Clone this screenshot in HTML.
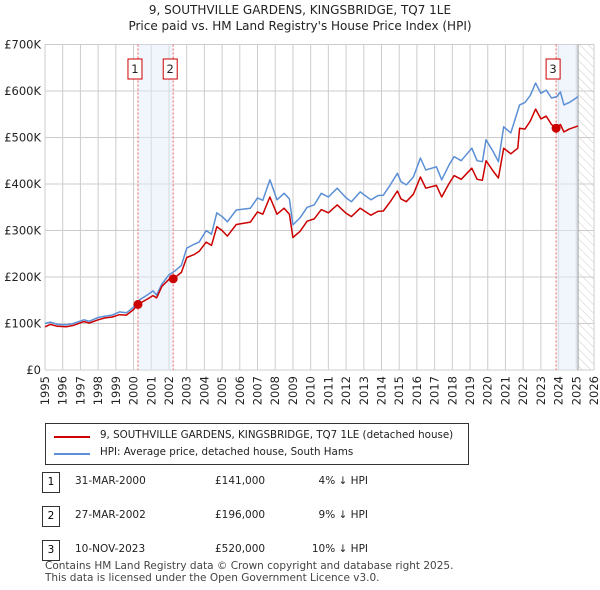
<!DOCTYPE html>
<html><head><meta charset="utf-8"><style>
body{margin:0;background:#fff;font-family:"DejaVu Sans","Liberation Sans",sans-serif;}
#wrap{position:relative;width:600px;height:590px;overflow:hidden;}
.t{position:absolute;font-size:11px;color:#222;white-space:nowrap;}
</style></head><body>
<div id="wrap">
<div class="t" style="left:0;width:600px;text-align:center;top:3px;font-size:12px;">9, SOUTHVILLE GARDENS, KINGSBRIDGE, TQ7 1LE</div>
<div class="t" style="left:0;width:600px;text-align:center;top:19px;font-size:12px;">Price paid vs. HM Land Registry's House Price Index (HPI)</div>
<svg id="chart" width="600" height="420" style="position:absolute;left:0;top:0;font-family:'DejaVu Sans',sans-serif">
<defs><pattern id="hatch" width="6" height="6" patternUnits="userSpaceOnUse" patternTransform="rotate(-45)"><line x1="0" y1="0" x2="0" y2="6" stroke="#ccc" stroke-width="1"/></pattern></defs>
<g id="grid"></g><g id="bands"></g><g id="lines"></g><g id="axes"></g>
</svg>
<div style="position:absolute;left:45px;top:423px;width:422px;height:40px;border:1px solid #333;">
<div style="position:absolute;left:8px;top:12px;width:36px;border-top:2px solid #cc0000"></div>
<div class="t" style="left:54px;top:5px;font-size:10.3px">9, SOUTHVILLE GARDENS, KINGSBRIDGE, TQ7 1LE (detached house)</div>
<div style="position:absolute;left:8px;top:29px;width:36px;border-top:2px solid #5b8fd6"></div>
<div class="t" style="left:54px;top:22px;font-size:10.3px">HPI: Average price, detached house, South Hams</div>
</div>
<div id="table"></div>
<div class="t" style="left:45px;top:560px;font-size:10.5px;line-height:12px;color:#444">Contains HM Land Registry data © Crown copyright and database right 2025.<br>This data is licensed under the Open Government Licence v3.0.</div>
</div>
<script>
const hpiYears=[1995.0,1995.3,1995.7,1996.2,1996.6,1997.2,1997.5,1998.0,1998.4,1998.8,1999.2,1999.6,2000.0,2000.3,2000.8,2001.1,2001.3,2001.6,2002.0,2002.3,2002.7,2003.0,2003.4,2003.7,2004.1,2004.4,2004.7,2005.0,2005.3,2005.8,2006.6,2007.0,2007.3,2007.7,2008.1,2008.5,2008.8,2009.0,2009.4,2009.8,2010.2,2010.6,2011.0,2011.5,2012.0,2012.3,2012.8,2013.4,2013.8,2014.1,2014.5,2014.9,2015.1,2015.4,2015.8,2016.2,2016.5,2017.1,2017.4,2017.8,2018.1,2018.5,2019.1,2019.4,2019.7,2019.9,2020.3,2020.6,2020.9,2021.3,2021.8,2022.1,2022.4,2022.7,2023.0,2023.3,2023.6,2023.9,2024.1,2024.3,2024.6,2025.1];
const hpiValues=[100,103,98,97,100,108,105,113,116,118,125,123,135,150,162,170,161,185,205,212,225,262,270,275,300,292,338,330,319,344,348,370,365,409,366,380,368,312,327,350,355,380,372,391,370,362,383,366,375,376,398,423,405,398,415,456,430,437,409,440,459,450,477,450,448,495,470,448,523,510,570,575,590,617,595,602,585,588,598,570,575,588];
const redYears=[1995.0,1995.3,1995.7,1996.2,1996.6,1997.2,1997.5,1998.0,1998.4,1998.8,1999.2,1999.6,2000.0,2000.25,2000.8,2001.1,2001.3,2001.6,2002.0,2002.24,2002.7,2003.0,2003.4,2003.7,2004.1,2004.4,2004.7,2005.0,2005.3,2005.8,2006.6,2007.0,2007.3,2007.7,2008.1,2008.5,2008.8,2009.0,2009.4,2009.8,2010.2,2010.6,2011.0,2011.5,2012.0,2012.3,2012.8,2013.4,2013.8,2014.1,2014.5,2014.9,2015.1,2015.4,2015.8,2016.2,2016.5,2017.1,2017.4,2017.8,2018.1,2018.5,2019.1,2019.4,2019.7,2019.9,2020.3,2020.6,2020.9,2021.3,2021.7,2021.8,2022.1,2022.4,2022.7,2023.0,2023.3,2023.6,2023.86,2024.1,2024.3,2024.6,2025.1];
const redValues=[93,98,94,93,96,104,101,108,112,114,119,118,130,141,153,160,155,180,195,196,210,242,248,255,275,268,308,300,288,313,318,340,335,372,335,348,335,285,298,320,325,345,338,355,337,330,348,333,341,342,362,385,368,362,378,415,391,397,372,400,418,410,434,410,408,450,428,413,477,465,477,520,518,535,561,540,546,528,520,528,512,518,525];
const saleYears=[2000.25,2002.24,2023.86];
const saleValues=[141,196,520];
const saleLabels=["1","2","3"];
const saleDates=["31-MAR-2000","27-MAR-2002","10-NOV-2023"];
const salePrices=["£141,000","£196,000","£520,000"];
const saleDiffs=["4% ↓ HPI","9% ↓ HPI","10% ↓ HPI"];
const yTicks=[0,100,200,300,400,500,600,700];
const yTickLabels=["£0","£100K","£200K","£300K","£400K","£500K","£600K","£700K"];
const xTicks=[1995,1996,1997,1998,1999,2000,2001,2002,2003,2004,2005,2006,2007,2008,2009,2010,2011,2012,2013,2014,2015,2016,2017,2018,2019,2020,2021,2022,2023,2024,2025,2026];
const dataEnd=2025.1;

const NS="http://www.w3.org/2000/svg";
const X0=45,X1=594,Y0=370,Y1=44.5;
const xs=y=>X0+(y-1995)/(2026-1995)*(X1-X0);
const ys=v=>Y0-v/700*(Y0-Y1);
function mk(tag,attrs,parent){const e=document.createElementNS(NS,tag);for(const k in attrs)e.setAttribute(k,attrs[k]);parent.appendChild(e);return e;}
const grid=document.getElementById('grid'),bands=document.getElementById('bands'),lines=document.getElementById('lines'),axes=document.getElementById('axes');
yTicks.forEach((t,i)=>{
 const l=mk('line',{x1:X0,x2:X1,y1:ys(t),y2:ys(t),stroke:'#ccc'},grid);
 
 const tx=mk('text',{x:X0-4,y:ys(t)+4,'text-anchor':'end','font-size':11.5,fill:'#222'},axes);
 tx.textContent=yTickLabels[i];
});
xTicks.forEach(t=>{
 const l=mk('line',{x1:xs(t),x2:xs(t),y1:Y1,y2:Y0,stroke:'#ccc'},grid);
 
 const tx=mk('text',{x:0,y:0,'text-anchor':'end','font-size':11.5,fill:'#222',transform:`translate(${xs(t)+4},${Y0+6}) rotate(-90)`},axes);
 tx.textContent=t;
});
const h=mk('rect',{x:xs(dataEnd),y:Y1,width:X1-xs(dataEnd),height:Y0-Y1,fill:'url(#hatch)'},bands);

const bandPairs=[[saleYears[0],saleYears[1]],[saleYears[2],dataEnd]];
bandPairs.forEach(p=>{const r=mk('rect',{x:xs(p[0]),y:Y1,width:xs(p[1])-xs(p[0]),height:Y0-Y1,fill:'#e4ecfa',opacity:0.5},bands);
 });
const el=mk('line',{x1:xs(dataEnd),x2:xs(dataEnd),y1:Y1,y2:Y0,stroke:'#999'},bands);

saleYears.forEach((s,i)=>{
 const l=mk('line',{x1:xs(s),x2:xs(s),y1:Y1,y2:Y0,stroke:'#f06060','stroke-dasharray':'2,2'},bands);
 
});
function poly(xa,va,color,name){const d=xa.map((y,i)=>(i?'L':'M')+xs(y).toFixed(1)+','+ys(va[i]).toFixed(1)).join('');
 const p=mk('path',{d:d,fill:'none',stroke:color,'stroke-width':1.5,'stroke-linejoin':'round'},lines);
 }
poly(hpiYears,hpiValues,'#5b8fd6','hpi-line');
poly(redYears,redValues,'#cc0000','price-paid-line');
saleYears.forEach((s,i)=>{
 const c=mk('circle',{cx:xs(s),cy:ys(saleValues[i]),r:4.5,fill:'#cc0000'},lines);
 
 const bx=xs(s)-10;
 const g=mk('g',{},axes);
 mk('rect',{x:bx,y:59,width:14,height:20,fill:'#fff',stroke:'#cc0000'},g);
 const t=mk('text',{x:bx+7,y:73,'text-anchor':'middle','font-size':11.5,fill:'#222'},g);t.textContent=saleLabels[i];
});
const tb=document.getElementById('table');
saleLabels.forEach((lab,i)=>{
 const top=472+i*34;
 const row=document.createElement('div');
 row.innerHTML=`<div style="position:absolute;left:42px;top:${top}px;width:16px;height:19px;border:1px solid #333;font-size:10.5px;text-align:center;line-height:19px">${lab}</div>
 <div class="t" style="left:75px;top:${top+3}px;font-size:10.5px">${saleDates[i]}</div>
 <div class="t" style="left:215px;top:${top+3}px;font-size:10.5px">${salePrices[i]}</div>
 <div class="t" style="left:290px;top:${top+3}px;width:78px;text-align:right;font-size:10.5px">${saleDiffs[i]}</div>`;
 tb.appendChild(row);
});
</script>
</body></html>
